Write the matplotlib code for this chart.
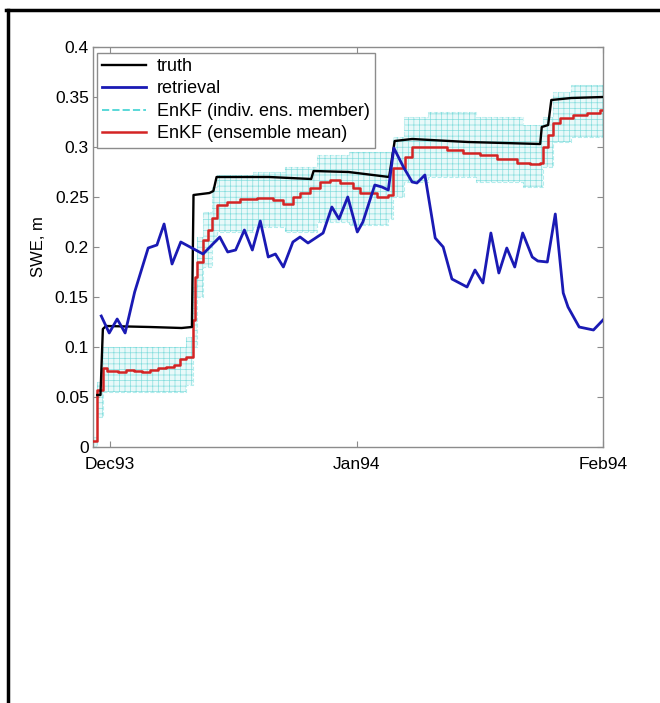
import numpy as np
import matplotlib
matplotlib.use("Agg")
import matplotlib.pyplot as plt
from matplotlib.lines import Line2D

# ----------------------------------------------------------------------------
# Data (x = days since 1 Dec 1993, y = SWE in m)
# ----------------------------------------------------------------------------

TRUTH_DAYS = [-1.6, -1.2, -0.9, -0.5, 5, 9, 10.3, 10.5, 12.5, 13.0, 13.4, 20,
              25.3, 25.6, 30, 35.1, 35.8, 38, 45, 54.1, 54.3, 55.1, 55.5, 58, 62]
TRUTH_SWE = [0.052, 0.052, 0.118, 0.121, 0.120, 0.119, 0.120, 0.252, 0.254,
             0.256, 0.270, 0.270, 0.268, 0.276, 0.275, 0.270, 0.306, 0.308,
             0.305, 0.303, 0.320, 0.322, 0.347, 0.349, 0.350]

RETR_DAYS = [-1.1, -0.1, 0.9, 1.9, 3.1, 4.8, 5.9, 6.8, 7.8, 8.9, 11.7, 13.8,
             14.8, 15.8, 16.9, 17.9, 18.9, 19.9, 20.8, 21.8, 23.0, 23.9, 24.9,
             26.8, 27.9, 28.8, 29.9, 31.1, 31.8, 33.3, 34.2, 35.0, 35.7, 36.9,
             38.0, 38.6, 39.6, 40.9, 41.9, 43.0, 44.9, 45.9, 46.9, 47.9, 48.9,
             49.9, 50.9, 51.9, 53.1, 53.8, 55.0, 56.0, 57.0, 57.6, 59.0, 60.8,
             62.0]
RETR_SWE = [0.131, 0.114, 0.128, 0.114, 0.155, 0.199, 0.202, 0.223, 0.183,
            0.205, 0.193, 0.210, 0.195, 0.197, 0.217, 0.197, 0.226, 0.190,
            0.193, 0.180, 0.205, 0.210, 0.204, 0.214, 0.240, 0.228, 0.250,
            0.215, 0.225, 0.262, 0.260, 0.257, 0.299, 0.280, 0.265, 0.264,
            0.272, 0.209, 0.200, 0.168, 0.160, 0.177, 0.164, 0.214, 0.174,
            0.199, 0.180, 0.214, 0.190, 0.186, 0.185, 0.233, 0.154, 0.140,
            0.120, 0.117, 0.127]

MEAN_DAYS = [-2.1, -1.6, -0.9, -0.4, 1, 2, 3, 4, 5, 6, 7, 8, 8.8, 9.5, 10.4,
             10.7, 11.0, 11.7, 12.3, 12.8, 13.5, 14.7, 16.4, 18.5, 20.5, 21.8,
             23.0, 23.9, 25.2, 26.4, 27.7, 28.9, 30.6, 31.4, 33.6, 35.0, 35.6,
             37.1, 38.0, 40.3, 42.4, 44.4, 46.5, 48.7, 51.2, 52.8, 54.1, 54.5,
             55.1, 55.7, 56.6, 58.2, 60.0, 61.6, 62.0]
MEAN_SWE = [0.006, 0.057, 0.079, 0.076, 0.075, 0.077, 0.076, 0.075, 0.077,
            0.079, 0.080, 0.082, 0.088, 0.090, 0.127, 0.170, 0.185, 0.207,
            0.217, 0.229, 0.242, 0.245, 0.248, 0.249, 0.247, 0.243, 0.250,
            0.254, 0.259, 0.265, 0.267, 0.264, 0.259, 0.254, 0.250, 0.252,
            0.279, 0.290, 0.300, 0.300, 0.297, 0.294, 0.292, 0.288, 0.284,
            0.283, 0.284, 0.300, 0.312, 0.324, 0.329, 0.332, 0.334, 0.337,
            0.337]

# spread of the individual ensemble members (lower / upper envelope)
ENS_DAYS = [-2.1, -1.6, -0.9, 4, 9.5, 10.4, 11.0, 11.7, 12.8, 13.5, 18, 22,
            26, 30, 35.0, 35.6, 37, 40, 46, 52, 54.5, 55.7, 58, 62]
ENS_LOW = [0.000, 0.030, 0.055, 0.055, 0.062, 0.100, 0.150, 0.180, 0.205,
           0.215, 0.220, 0.215, 0.225, 0.222, 0.228, 0.250, 0.265, 0.270,
           0.265, 0.260, 0.280, 0.305, 0.310, 0.315]
ENS_HIGH = [0.010, 0.065, 0.100, 0.100, 0.110, 0.160, 0.210, 0.235, 0.260,
            0.272, 0.275, 0.280, 0.292, 0.295, 0.295, 0.310, 0.330, 0.335,
            0.330, 0.322, 0.330, 0.355, 0.362, 0.365]

XTICKS = [0, 31, 62]
XTICK_LABELS = ["Dec93", "Jan94", "Feb94"]
YTICKS = [0, 0.05, 0.1, 0.15, 0.2, 0.25, 0.3, 0.35, 0.4]

# ----------------------------------------------------------------------------
# Plotting
# ----------------------------------------------------------------------------

plt.rcParams.update({
    "font.family": ["Liberation Sans", "DejaVu Sans"],
    "font.size": 12.5,
    "hatch.linewidth": 0.5,
})

CYAN = "#5ad8d8"
GREY = "#8c8c8c"

fig = plt.figure(figsize=(6.6, 7.03), dpi=100)
ax = fig.add_axes([93 / 660, 256 / 703, 510 / 660, 400 / 703])

# ensemble band: light mesh of members
ax.fill_between(ENS_DAYS, ENS_LOW, ENS_HIGH, step="post",
                facecolor="#d2f4f4", alpha=0.5, linewidth=0, zorder=1)
ax.fill_between(ENS_DAYS, ENS_LOW, ENS_HIGH, step="post",
                facecolor="none", edgecolor="#86dede", hatch="+++",
                linewidth=0, zorder=1)
ax.step(ENS_DAYS, ENS_LOW, where="post", color=CYAN, lw=0.8, ls="--",
        alpha=0.45, zorder=2)
ax.step(ENS_DAYS, ENS_HIGH, where="post", color=CYAN, lw=0.8, ls="--",
        alpha=0.25, zorder=2)

ax.plot(TRUTH_DAYS, TRUTH_SWE, color="black", lw=1.7, zorder=4)
ax.plot(RETR_DAYS, RETR_SWE, color="#1a1ab4", lw=2.0, zorder=5)
ax.step(MEAN_DAYS, MEAN_SWE, where="post", color="#d42424", lw=1.8, zorder=3)

ax.set_xlim(-2.14, 62)
ax.set_ylim(0, 0.4)
ax.set_xticks(XTICKS, XTICK_LABELS)
ax.set_yticks(YTICKS, [f"{v:g}" for v in YTICKS])
ax.tick_params(direction="in", length=4, color=GREY, top=True, right=True,
               pad=3, labelsize=12.5)
ax.tick_params(axis="x", pad=7)
for sp in ax.spines.values():
    sp.set_color(GREY)
    sp.set_linewidth(1.0)
ax.set_ylabel("SWE, m", fontsize=12, labelpad=6)

handles = [
    Line2D([], [], color="black", lw=1.7),
    Line2D([], [], color="#1a1ab4", lw=2.0),
    Line2D([], [], color=CYAN, lw=1.4, ls="--"),
    Line2D([], [], color="#d42424", lw=1.8),
]
labels = ["truth", "retrieval", "EnKF (indiv. ens. member)",
          "EnKF (ensemble mean)"]
leg = ax.legend(handles, labels, loc="upper left",
                bbox_to_anchor=(0.008, 0.986), borderaxespad=0,
                fancybox=False, framealpha=1, edgecolor=GREY,
                handlelength=2.4, handletextpad=0.6, labelspacing=0.3,
                borderpad=0.3, fontsize=13)
leg.get_frame().set_linewidth(1.0)
leg.set_zorder(10)

# outer black frame (top and left edges only, as in the source page)
fig.add_artist(Line2D([6 / 660, 1.0], [1 - 10 / 703, 1 - 10 / 703],
                      color="black", lw=2.5, transform=fig.transFigure))
fig.add_artist(Line2D([8 / 660, 8 / 660], [0.0, 1 - 10 / 703],
                      color="black", lw=2.5, transform=fig.transFigure))

fig.savefig("out.png", dpi=100)
